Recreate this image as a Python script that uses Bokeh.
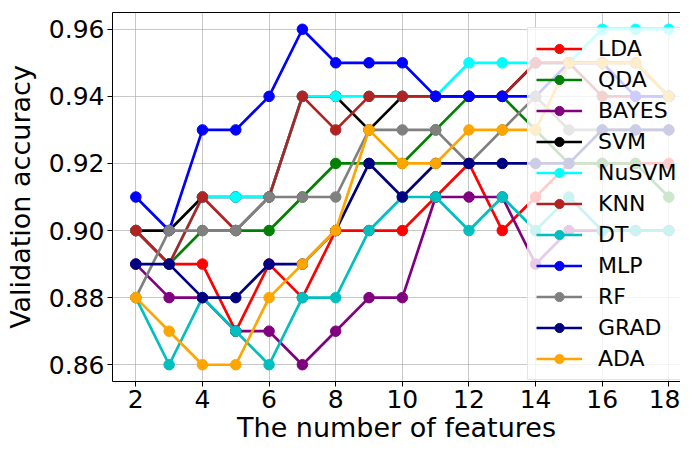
from bokeh.plotting import figure
from bokeh.models import Range1d, FixedTicker, PrintfTickFormatter, Legend, LegendItem, LinearAxis
from bokeh.embed import file_html
from bokeh.resources import INLINE

features = list(range(2, 19))

LDA   = [0.90, 0.89, 0.89, 0.87, 0.89, 0.88, 0.90, 0.90, 0.90, 0.91, 0.92, 0.90, 0.91, 0.92, 0.92, 0.92, 0.92]
QDA   = [0.90, 0.89, 0.90, 0.90, 0.90, 0.91, 0.92, 0.92, 0.92, 0.93, 0.94, 0.94, 0.93, 0.92, 0.92, 0.92, 0.91]
BAYES = [0.89, 0.88, 0.88, 0.87, 0.87, 0.86, 0.87, 0.88, 0.88, 0.91, 0.91, 0.91, 0.89, 0.90, 0.90, 0.90, 0.90]
SVM   = [0.90, 0.90, 0.91, 0.91, 0.91, 0.94, 0.94, 0.93, 0.94, 0.94, 0.94, 0.94, 0.95, 0.95, 0.95, 0.95, 0.94]
NuSVM = [0.90, 0.89, 0.91, 0.91, 0.91, 0.94, 0.94, 0.94, 0.94, 0.94, 0.95, 0.95, 0.95, 0.95, 0.96, 0.96, 0.96]
KNN   = [0.90, 0.89, 0.91, 0.90, 0.91, 0.94, 0.93, 0.94, 0.94, 0.94, 0.94, 0.94, 0.95, 0.95, 0.94, 0.94, 0.94]
DT    = [0.88, 0.86, 0.88, 0.87, 0.86, 0.88, 0.88, 0.90, 0.91, 0.91, 0.90, 0.91, 0.90, 0.91, 0.90, 0.90, 0.90]
MLP   = [0.91, 0.90, 0.93, 0.93, 0.94, 0.96, 0.95, 0.95, 0.95, 0.94, 0.94, 0.94, 0.94, 0.95, 0.95, 0.94, 0.94]
RF    = [0.88, 0.90, 0.90, 0.90, 0.91, 0.91, 0.91, 0.93, 0.93, 0.93, 0.92, 0.93, 0.94, 0.93, 0.93, 0.93, 0.93]
GRAD  = [0.89, 0.89, 0.88, 0.88, 0.89, 0.89, 0.90, 0.92, 0.91, 0.92, 0.92, 0.92, 0.92, 0.92, 0.93, 0.93, 0.93]
ADA   = [0.88, 0.87, 0.86, 0.86, 0.88, 0.89, 0.90, 0.93, 0.92, 0.92, 0.93, 0.93, 0.93, 0.95, 0.95, 0.95, 0.94]

names = ["LDA", "QDA", "BAYES", "SVM", "NuSVM", "KNN", "DT", "MLP", "RF", "GRAD", "ADA"]
values = [LDA, QDA, BAYES, SVM, NuSVM, KNN, DT, MLP, RF, GRAD, ADA]
colors = ["#ff0000", "#008000", "#800080", "#000000", "#00ffff", "#b22222",
          "#00bfbf", "#0000ff", "#808080", "#000080", "#ffa500"]

x_ticks = [2, 4, 6, 8, 10, 12, 14, 16, 18]
y_ticks = [0.86, 0.88, 0.90, 0.92, 0.94, 0.96]

FONT = "DejaVu Sans"

p = figure(width=680, height=445, output_backend="svg", toolbar_location=None,
           x_range=Range1d(1.3, 18.35), y_range=Range1d(0.855, 0.965),
           min_border_left=112, min_border_right=0, min_border_top=12, min_border_bottom=0)
p.outline_line_color = None
p.background_fill_color = "white"

for ax in (p.xaxis[0], p.yaxis[0]):
    ax.axis_line_color = "black"
    ax.axis_line_width = 1
    ax.major_tick_line_color = "black"
    ax.major_tick_out = 5
    ax.major_tick_in = 0
    ax.minor_tick_line_color = None
    ax.major_label_text_font = FONT
    ax.major_label_text_font_size = "25px"
    ax.major_label_text_color = "black"
    ax.axis_label_text_font = FONT
    ax.axis_label_text_font_size = "27px"
    ax.axis_label_text_font_style = "normal"
    ax.axis_label_text_color = "black"
    ax.major_label_standoff = 3

p.xaxis.ticker = FixedTicker(ticks=x_ticks)
p.yaxis.ticker = FixedTicker(ticks=y_ticks)
p.yaxis.formatter = PrintfTickFormatter(format="%.2f")
p.xaxis.axis_label = "The number of features"
p.yaxis.axis_label = "Validation accuracy"
p.xaxis.axis_label_standoff = 1
p.yaxis.axis_label_standoff = 10

top = LinearAxis(ticker=FixedTicker(ticks=[]), major_label_text_font_size="0px",
                 major_tick_line_color=None, minor_tick_line_color=None,
                 axis_line_color="black", major_label_standoff=0)
p.add_layout(top, "above")

p.xgrid.grid_line_color = "#b0b0b0"
p.ygrid.grid_line_color = "#b0b0b0"
p.xgrid.grid_line_alpha = 0.7
p.ygrid.grid_line_alpha = 0.7

items = []
for name, vals, col in zip(names, values, colors):
    ln = p.line(features, vals, line_color=col, line_width=2.7)
    sc = p.scatter(features, vals, size=10.5, fill_color=col, line_color=col)
    items.append(LegendItem(label=name, renderers=[ln, sc]))

legend = Legend(items=items, location=(415, 1))
legend.label_text_font = FONT
legend.label_text_font_size = "22px"
legend.label_text_color = "black"
legend.glyph_width = 46
legend.glyph_height = 23
legend.label_height = 23
legend.label_standoff = 16
legend.spacing = 6
legend.padding = 8
legend.margin = 0
legend.background_fill_color = "white"
legend.background_fill_alpha = 0.8
legend.border_line_color = "#cccccc"
legend.border_line_width = 1
p.add_layout(legend)

open("out.html", "w").write(file_html(p, INLINE))
